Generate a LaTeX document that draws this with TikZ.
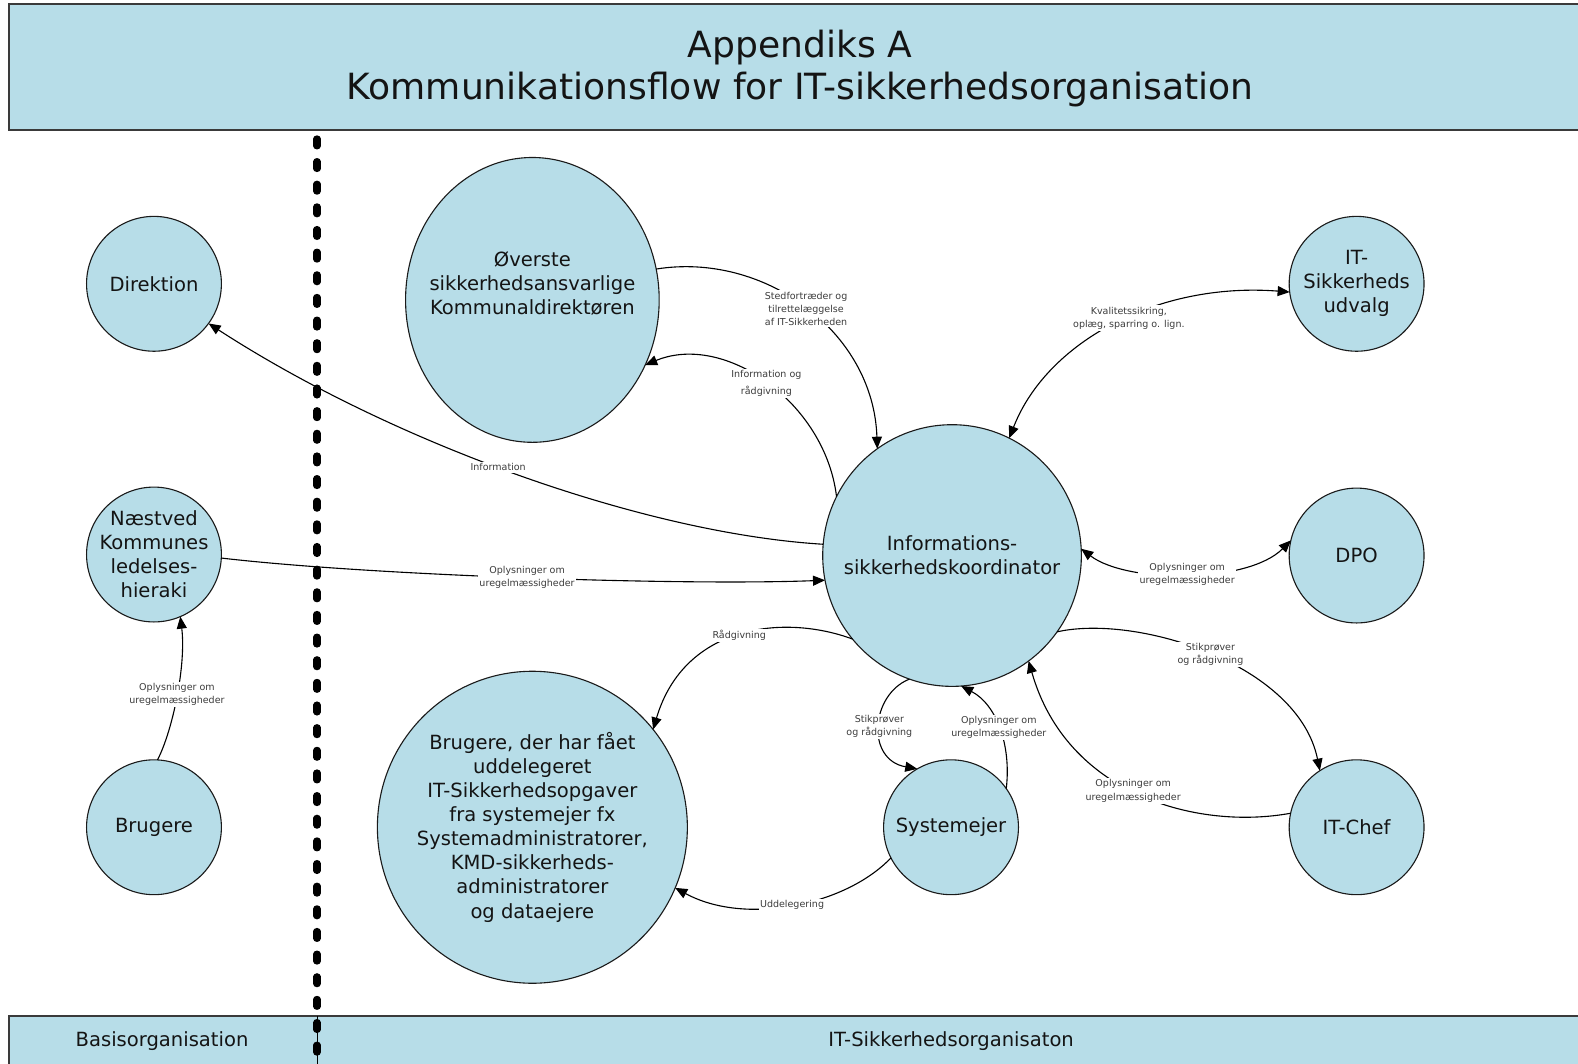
\documentclass[tikz,border=0pt]{standalone}
\usepackage{fontspec}
\setmainfont{DejaVu Sans}
\usetikzlibrary{shapes.geometric,arrows.meta}
\definecolor{boxfill}{HTML}{B7DDE8}
\definecolor{rimline}{HTML}{1A1A1A}
\definecolor{bandline}{HTML}{3A3A3A}
\definecolor{lbltext}{HTML}{3C3C3C}
\tikzset{
  ent/.style={ellipse, draw=rimline, line width=1.1bp, fill=boxfill,
    inner sep=-60bp, outer sep=0pt, align=center,
    font=\fontsize{19.5}{24}\selectfont, text=black!92},
  entsmall/.style={ent, minimum width=134bp, minimum height=134bp},
  enttext/.style={align=center, font=\fontsize{19.5}{24}\selectfont, text=black!92},
  tip/.style={-{Triangle[length=12bp,width=10bp]}},
  flow/.style={draw=black, line width=1.1bp, tip},
  twoway/.style={draw=black, line width=1.1bp,
    {Triangle[length=12bp,width=10bp]}-{Triangle[length=12bp,width=10bp]}},
  lbl/.style={fill=white, inner sep=1.5bp, align=center,
    font=\fontsize{9.5}{13}\selectfont, text=lbltext},
  band/.style={draw=bandline, line width=2bp, fill=boxfill},
  bandtext/.style={font=\fontsize{19.5}{24}\selectfont, text=black!92},
  orgborder/.style={line width=7bp, line cap=round, dash pattern=on 7bp off 15.5bp},
}
\begin{document}
\begin{tikzpicture}[x=1bp,y=-1bp]
\useasboundingbox (0,0) rectangle (1568,1057);
\clip (0,0) rectangle (1568,1057);

% header band
\draw[band] (9,4) rectangle (1590,129);
\node[align=center, font=\fontsize{36}{42}\selectfont, text=black!92] (title) at (795,68)
  {Appendiks A\\Kommunikationsflow for IT-sikkerhedsorganisation};

% footer band
\draw[band] (9,1010) rectangle (1590,1080);
\draw[black, line width=0.8bp] (315,1010) -- (315,1057);
\node[bandtext] (basis) at (161,1034) {Basisorganisation};
\node[bandtext] (itorg) at (945,1034) {IT-Sikkerhedsorganisaton};

% border between the two organisations
\draw[orgborder] (315,138) -- (315,1001);
\draw[orgborder] (315,1016) -- (315,1057);

% entities
\node[entsmall] (dir) at (153,282) {Direktion};
\node[entsmall] (nas) at (153,551) {Næstved\\Kommunes\\ledelses-\\hieraki};
\node[entsmall] (bru) at (153,822) {Brugere};
\node[ent, minimum width=252bp, minimum height=283bp] (ov) at (529,298) {};
\node[enttext] (ovtxt) at (529,282) {Øverste\\sikkerhedsansvarlige\\Kommunaldirektøren};
\node[ent, minimum width=257bp, minimum height=260bp] (isk) at (946,552)
  {Informations-\\sikkerhedskoordinator};
\node[entsmall] (udv) at (1348,282) {IT-\\Sikkerheds\\udvalg};
\node[entsmall] (dpo) at (1348,552) {DPO};
\node[entsmall] (chef) at (1348,822) {IT-Chef};
\node[entsmall] (sys) at (945,822) {Systemejer};
\node[ent, minimum width=308bp, minimum height=310bp] (big) at (529,822)
  {Brugere, der har fået\\uddelegeret\\IT-Sikkerhedsopgaver\\fra systemejer fx\\Systemadministratorer,\\KMD-sikkerheds-\\administratorer\\og dataejere};

% communication flows
\draw[flow] (isk.175) .. controls (640,530) and (390,440) .. (dir.-36)
  node[lbl, pos=0.53] (l1) {Information};
\draw[flow] (nas.-3) .. controls (370,572) and (680,582) .. (isk.191)
  node[lbl, pos=0.5] (l2) {Oplysninger om\\uregelmæssigheder};
\draw[flow] (bru.87) .. controls (172,725) and (185,660) .. (nas.-67)
  node[lbl, pos=0.5] (l3) {Oplysninger om\\uregelmæssigheder};
\draw[flow] (ov.14) .. controls (760,250) and (868,330) .. (isk.125)
  node[lbl, pos=0.5] (l4) {Stedfortræder og\\tilrettelæggelse\\af IT-Sikkerheden};
\draw[flow] (isk.153) .. controls (820,400) and (720,330) .. (ov.-30)
  node[lbl, pos=0.5, font=\fontsize{9.5}{17}\selectfont] (l5) {Information og\\rådgivning};
\draw[twoway] (isk.64) .. controls (1040,340) and (1150,280) .. (udv.187)
  node[lbl, pos=0.55] (l6) {Kvalitetssikring,\\oplæg, sparring o. lign.};
\draw[twoway] (isk.3) .. controls (1120,580) and (1240,580) .. (dpo.167)
  node[lbl, pos=0.5] (l7) {Oplysninger om\\uregelmæssigheder};
\draw[flow] (isk.-36) .. controls (1130,610) and (1290,660) .. (chef.123)
  node[lbl, pos=0.5] (l8) {Stikprøver\\og rådgivning};
\draw[flow] (chef.168) .. controls (1190,825) and (1060,790) .. (isk.-54)
  node[lbl, pos=0.52] (l9) {Oplysninger om\\uregelmæssigheder};
\draw[flow] (isk.-109) .. controls (865,690) and (860,755) .. (sys.120)
  node[lbl, pos=0.5] (l10) {Stikprøver\\og rådgivning};
\draw[flow] (sys.35) .. controls (1005,740) and (990,700) .. (isk.-86)
  node[lbl, pos=0.5] (l11) {Oplysninger om\\uregelmæssigheder};
\draw[flow] (isk.-140) .. controls (780,610) and (680,620) .. (big.39)
  node[lbl, pos=0.5] (l12) {Rådgivning};
\draw[flow] (sys.-153) .. controls (840,900) and (740,920) .. (big.-23)
  node[lbl, pos=0.5] (l13) {Uddelegering};
\end{tikzpicture}
\end{document}
